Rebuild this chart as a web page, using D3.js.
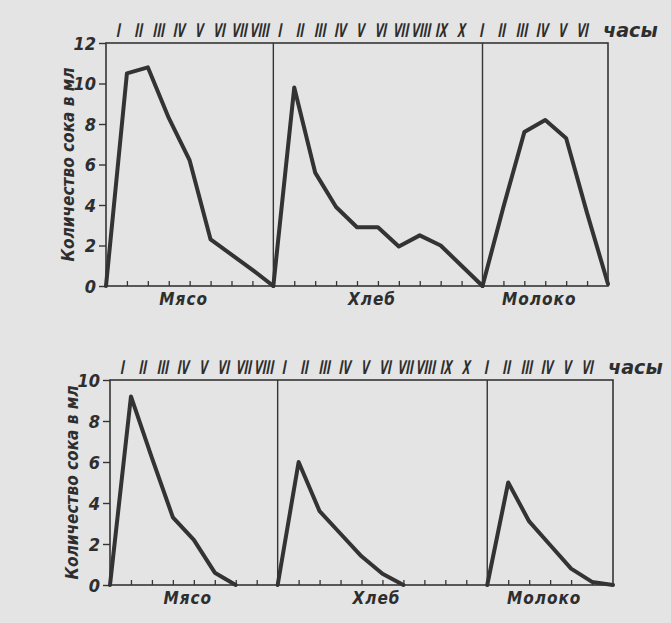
<!DOCTYPE html>
<html>
<head>
<meta charset="utf-8">
<script src="https://cdn.jsdelivr.net/npm/d3@7"></script>
<style>
  html, body { margin: 0; padding: 0; background: #e4e4e4; }
  svg { display: block; }
  text { font-family: "DejaVu Sans Condensed", "DejaVu Sans", sans-serif; font-style: italic; font-weight: bold; fill: #2e2e2e; }
</style>
</head>
<body>
<svg id="chart" width="671" height="623"></svg>
<script>
// ---- data ----
const romans = ["I","II","III","IV","V","VI","VII","VIII","IX","X"];
const foods = ["Мясо", "Хлеб", "Молоко"];
const foodHours = [8, 10, 6];            // duration of each panel, hours
const unitLabel = "часы";
const yTitle = "Количество сока в мл";

// top chart: hourly juice amounts (ml), from start of each panel
const topMeat  = [0, 10.5, 10.8, 8.3, 6.2, 2.3, 1.55, 0.8, 0];
const topBread = [0, 9.8, 5.6, 3.9, 2.9, 2.9, 1.95, 2.5, 2.0, 1.0, 0];
const topMilk  = [0, 3.9, 7.6, 8.2, 7.3, 3.6, 0.1];
const topYTicks = [0, 2, 4, 6, 8, 10, 12];

// bottom chart
const botMeat  = [0, 9.2, 6.2, 3.3, 2.2, 0.6, 0];
const botBread = [0, 6.0, 3.6, 2.5, 1.4, 0.55, 0];
const botMilk  = [0, 5.0, 3.1, 1.95, 0.8, 0.15, 0];
const botYTicks = [0, 2, 4, 6, 8, 10];

// ---- drawing ----
const svg = d3.select("#chart");
svg.append("rect").attr("width", 671).attr("height", 623).attr("fill", "#e4e4e4");

const charts = [
  { series: [topMeat, topBread, topMilk], ticks: topYTicks, box: { x0: 106, x1: 608, y0: 43, y1: 286 } },
  { series: [botMeat, botBread, botMilk], ticks: botYTicks, box: { x0: 110, x1: 613, y0: 380, y1: 585 } }
];

const starts = foodHours.map((d, i) => d3.sum(foodHours.slice(0, i)));
const total = d3.sum(foodHours);
const ink = "#353535";

charts.forEach(c => {
  const b = c.box;
  const yMax = d3.max(c.ticks);
  const x = d3.scaleLinear().domain([0, total]).range([b.x0, b.x1]);
  const y = d3.scaleLinear().domain([0, yMax]).range([b.y1, b.y0]);
  const g = svg.append("g");

  // frame
  g.append("rect").attr("x", b.x0).attr("y", b.y0)
    .attr("width", b.x1 - b.x0).attr("height", b.y1 - b.y0)
    .attr("fill", "none").attr("stroke", ink).attr("stroke-width", 1.6);
  // panel dividers
  g.selectAll("line.div").data(starts.slice(1)).join("line")
    .attr("x1", d => x(d)).attr("x2", d => x(d))
    .attr("y1", b.y0).attr("y2", b.y1)
    .attr("stroke", ink).attr("stroke-width", 1.4);

  // y axis
  const ya = g.append("g").attr("transform", `translate(${b.x0},0)`)
    .call(d3.axisLeft(y).tickValues(c.ticks).tickSize(7).tickPadding(3).tickFormat(d3.format("d")));
  ya.select(".domain").remove();
  ya.selectAll("line").attr("stroke", ink).attr("stroke-width", 1.4);
  ya.selectAll("text").attr("font-size", 18).attr("fill", "#2e2e2e")
    .style("font-family", "'DejaVu Sans Condensed', sans-serif").style("font-style", "italic")
    .style("font-weight", "bold").attr("dy", "0.36em");

  // bottom inward hour ticks
  const hourTicks = d3.range(1, total).filter(h => !starts.includes(h));
  const xa = g.append("g").attr("transform", `translate(0,${b.y1})`)
    .call(d3.axisBottom(x).tickValues(hourTicks).tickSize(-5).tickFormat(""));
  xa.select(".domain").remove();
  xa.selectAll("line").attr("stroke", ink).attr("stroke-width", 1.3);

  // y title
  g.append("text")
    .attr("transform", `translate(${b.x0 - 32},${(b.y0 + b.y1) / 2}) rotate(-90)`)
    .attr("text-anchor", "middle").attr("font-size", 17)
    .attr("textLength", 194).attr("lengthAdjust", "spacingAndGlyphs")
    .text(yTitle);

  // hour labels (roman numerals) above the frame, horizontally condensed
  const lab = d3.scaleLinear().domain([0.5, total - 0.5]).range([x(0.5) + 2, x(total - 0.5) - 15]);
  const hourLabs = [];
  foodHours.forEach((n, i) => d3.range(n).forEach(k => hourLabs.push({ h: starts[i] + k + 0.5, t: romans[k] })));
  g.selectAll("text.hr").data(hourLabs).join("text").attr("class", "hr")
    .attr("transform", d => `translate(${lab(d.h)},${b.y0 - 6}) scale(0.6,1) skewX(-8)`)
    .attr("text-anchor", "middle").attr("font-size", 19)
    .text(d => d.t);
  g.append("text")
    .attr("transform", `translate(${x(total) - 5},${b.y0 - 6}) scale(1.12,1)`)
    .attr("font-size", 19)
    .text(unitLabel);

  // food names under each panel
  g.selectAll("text.food").data(foods).join("text").attr("class", "food")
    .attr("x", (d, i) => (x(starts[i]) + x(starts[i] + foodHours[i])) / 2 - 6)
    .attr("y", b.y1 + 19)
    .attr("text-anchor", "middle").attr("font-size", 17)
    .attr("letter-spacing", 1)
    .text(d => d);

  // lines
  const line = d3.line().x(d => x(d[0])).y(d => y(d[1]));
  c.series.forEach((vals, i) => {
    const pts = vals.map((v, k) => [starts[i] + k, v]);
    g.append("path").attr("d", line(pts))
      .attr("fill", "none").attr("stroke", "#333").attr("stroke-width", 4)
      .attr("stroke-linejoin", "round").attr("stroke-linecap", "round");
  });
});
</script>
</body>
</html>
